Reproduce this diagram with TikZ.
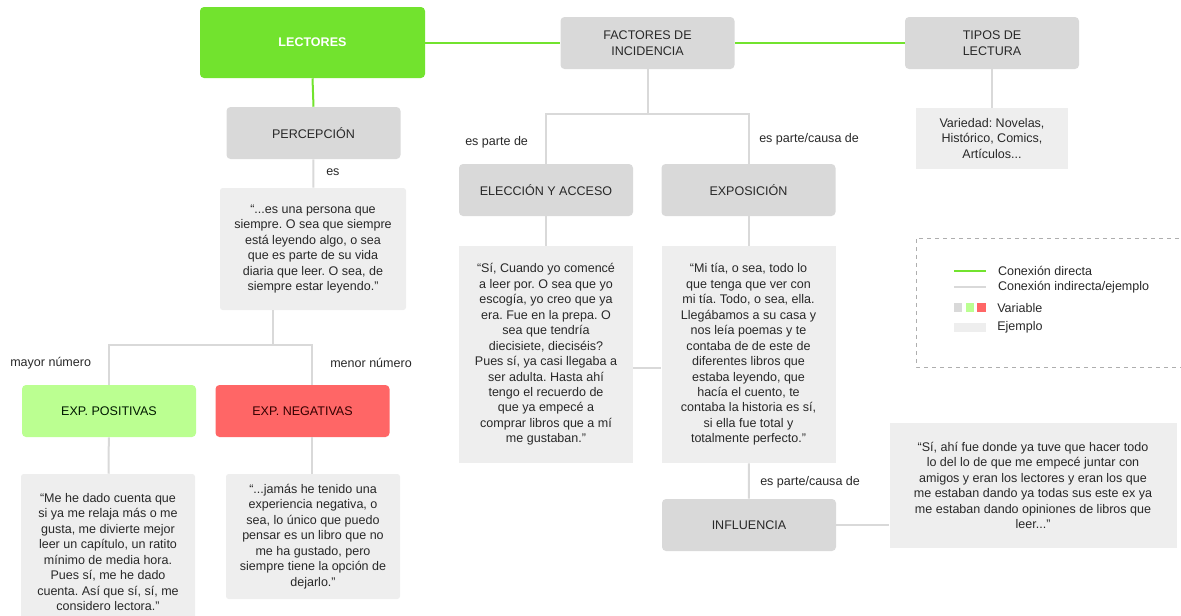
\documentclass[tikz,border=0pt]{standalone}
\usepackage{fontspec}
\setmainfont{Liberation Sans}
\frenchspacing
\usetikzlibrary{positioning}
\definecolor{verde}{RGB}{114,227,46}
\definecolor{verdeclaro}{RGB}{187,255,145}
\definecolor{rojo}{RGB}{255,102,102}
\definecolor{gris}{RGB}{217,217,217}
\definecolor{grisej}{RGB}{238,238,238}
\definecolor{texto}{RGB}{40,40,40}
\tikzset{
  var/.style={fill=gris, rounded corners=3pt, font=\fontsize{9.4}{11.6}\selectfont, text=texto, align=center, inner sep=0pt, minimum width=130.5pt, minimum height=39pt},
  lec/.style={fill=verde, rounded corners=3pt, font=\fontsize{9.4}{11.6}\selectfont\bfseries, text=white, inner sep=0pt, minimum width=168.75pt, minimum height=53.25pt},
  exppos/.style={var, fill=verdeclaro, text=black!75!green!40!black},
  expneg/.style={var, fill=rojo, text=black!80!red},
  ej/.style={fill=grisej, rounded corners=2pt, font=\fontsize{9.4}{11.6}\selectfont, text=texto, align=center, inner sep=0pt},
  lbl/.style={font=\fontsize{9.4}{11.6}\selectfont, text=texto, anchor=west, inner sep=0pt},
  dl/.style={draw=verde, line width=1.5pt},
  il/.style={draw=gris, line width=1.5pt},
}
\begin{document}
\begin{tikzpicture}[x=0.75pt,y=-0.75pt]
\useasboundingbox (0,0) rectangle (1181,615);
% variables
\node[lec] (lec) at (312.5,42.5) {LECTORES};
\node[var] (fac) at (647.5,43) {FACTORES DE\\INCIDENCIA};
\node[var] (tip) at (992,43) {TIPOS DE\\LECTURA};
\node[var] (per) at (313.5,133) {PERCEPCIÓN};
\node[exppos] (pos) at (109,411) {EXP. POSITIVAS};
\node[expneg] (neg) at (302.5,411) {EXP. NEGATIVAS};
\node[var] (ele) at (546,190) {ELECCIÓN Y ACCESO};
\node[var] (exp) at (748.5,190) {EXPOSICIÓN};
\node[var] (inf) at (749,525) {INFLUENCIA};
% ejemplos
\node[ej, rounded corners=0pt, minimum width=114pt, minimum height=45.75pt] (tipq) at (992,138.5) {Variedad: Novelas,\\Histórico, Comics,\\Artículos...};
\node[ej, minimum width=139.5pt, minimum height=91.5pt] (perq) at (313,249) {“...es una persona que\\siempre. O sea que siempre\\está leyendo algo, o sea\\que es parte de su vida\\diaria que leer. O sea, de\\siempre estar leyendo.”};
\node[ej, minimum width=130.5pt, minimum height=117pt] (posq) at (108,552) {“Me he dado cuenta que\\si ya me relaja más o me\\gusta, me divierte mejor\\leer un capítulo, un ratito\\mínimo de media hora.\\Pues sí, me he dado\\cuenta. Así que sí, sí, me\\considero lectora.”};
\node[ej, minimum width=130.5pt, minimum height=93.75pt] (negq) at (313,536.5) {“...jamás he tenido una\\experiencia negativa, o\\sea, lo único que puedo\\pensar es un libro que no\\me ha gustado, pero\\siempre tiene la opción de\\dejarlo.”};
\node[ej, rounded corners=0pt, minimum width=130.5pt, minimum height=162.75pt] (eleq) at (546,354.5) {“Sí, Cuando yo comencé\\a leer por. O sea que yo\\escogía, yo creo que ya\\era. Fue en la prepa. O\\sea que tendría\\diecisiete, dieciséis?\\Pues sí, ya casi llegaba a\\ser adulta. Hasta ahí\\tengo el recuerdo de\\que ya empecé a\\comprar libros que a mí\\me gustaban.”};
\node[ej, rounded corners=0pt, minimum width=130.5pt, minimum height=162.75pt] (expq) at (748.5,354.5) {“Mi tía, o sea, todo lo\\que tenga que ver con\\mi tía. Todo, o sea, ella.\\Llegábamos a su casa y\\nos leía poemas y te\\contaba de de este de\\diferentes libros que\\estaba leyendo, que\\hacía el cuento, te\\contaba la historia es sí,\\si ella fue total y\\totalmente perfecto.”};
\node[ej, rounded corners=0pt, minimum width=215.25pt, minimum height=93.75pt] (infq) at (1033,485.5) {“Sí, ahí fue donde ya tuve que hacer todo\\lo del lo de que me empecé juntar con\\amigos y eran los lectores y eran los que\\me estaban dando ya todas sus este ex ya\\me estaban dando opiniones de libros que\\leer...”};
% etiquetas
\node[lbl] (les) at (326,172) {es};
\node[lbl] (lpa) at (465,142) {es parte de};
\node[lbl] (lpc) at (759,139) {es parte/causa de};
\node[lbl] (lma) at (10,363) {mayor número};
\node[lbl] (lme) at (330,363) {menor número};
\node[lbl] (lin) at (760,482) {es parte/causa de};
% conexiones directas
\draw[dl] (lec.east |- fac) -- (fac.west);
\draw[dl] (fac) -- (tip);
\draw[dl] (lec.south) -- (per.north);
% conexiones indirectas
\coordinate (pj) at (273,345);
\coordinate (nj) at (312,345);
\coordinate (fj) at (647.5,114);
\coordinate (ej) at (640,368);
\draw[il] (tip) -- (tipq);
\draw[il] (per) -- (perq);
\draw[il] (perq.south -| pj) -- (pj);
\draw[il] (pos.north) |- (nj) -- (nj |- neg.north);
\draw[il] (pos) -- (posq);
\draw[il] (nj |- neg.south) -- (nj |- negq.north);
\draw[il] (fac.south) -- (fj);
\draw[il] (ele.north) |- (fj) -| (exp.north);
\draw[il] (ele) -- (eleq);
\draw[il] (exp) -- (expq);
\draw[il] (eleq.east |- ej) -- (expq.west |- ej);
\draw[il] (expq) -- (inf);
\draw[il] (inf.east) -- (inf.east -| infq.west);
% leyenda
\draw[gris!80!black, dashed, line width=0.5pt] (1195,238) -| (916,367) -- (1195,367);
\coordinate (ley) at (954,271);
\draw[dl] (ley) -- ++(32,0) node[lbl, right=8.25pt] (ld) {Conexión directa};
\draw[il] (954,287) -- ++(32,0) node[lbl, right=8.25pt] (li) {Conexión indirecta/ejemplo};
\fill[gris] (954,303) rectangle (962,312);
\fill[verdeclaro] (966,303) rectangle (974,312);
\fill[rojo] (977,303) rectangle (986,312);
\node[lbl] (lv) at (997,308) {Variable};
\fill[grisej] (954,323) rectangle (986,332);
\node[lbl] (le) at (997,327) {Ejemplo};
\end{tikzpicture}
\end{document}
